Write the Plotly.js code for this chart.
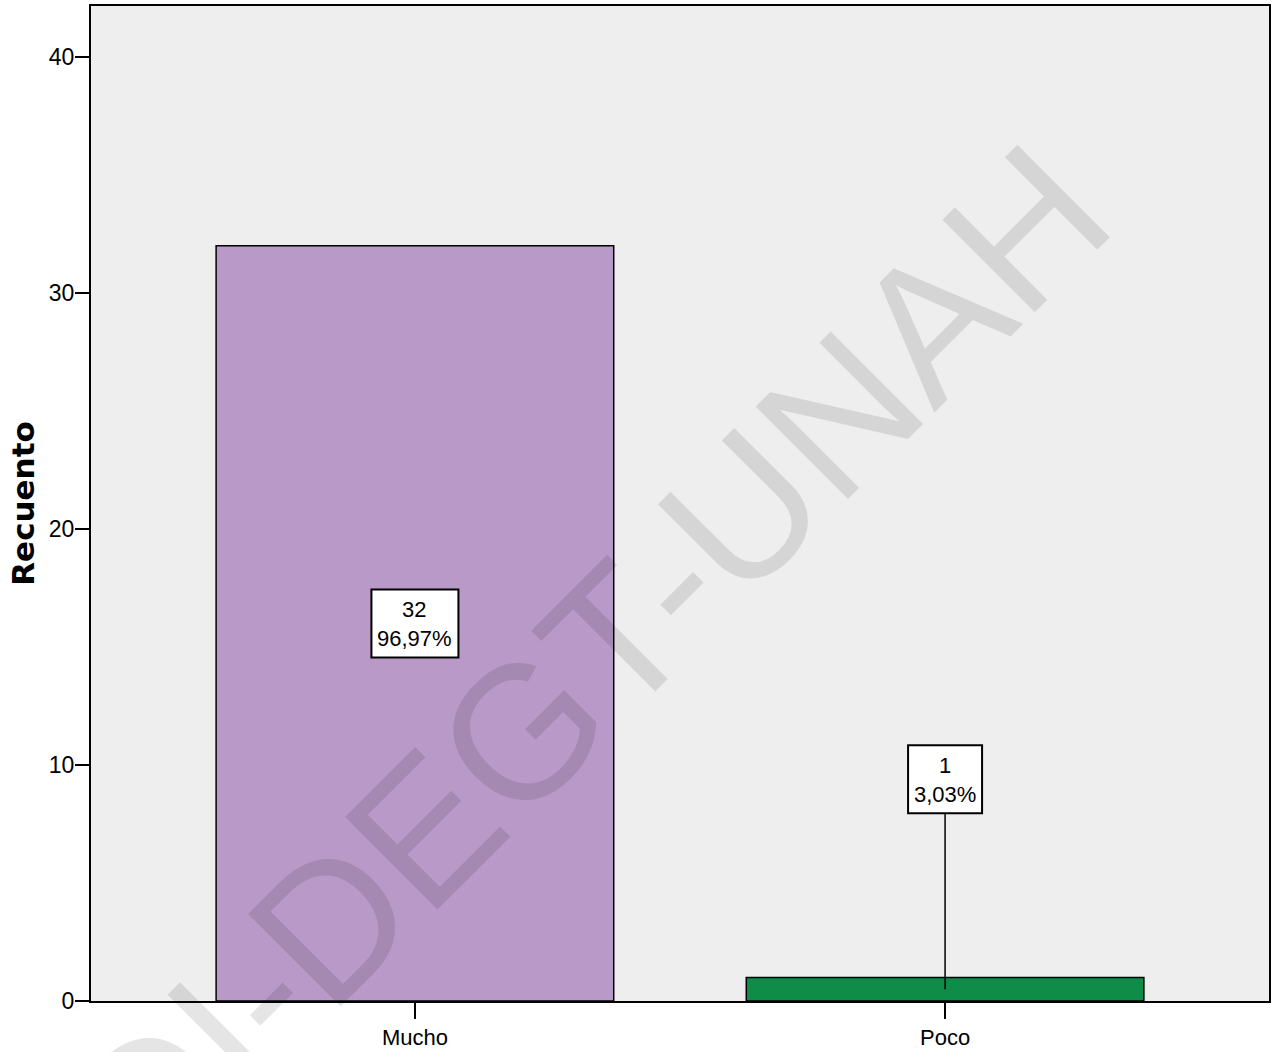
<!DOCTYPE html>
<html>
<head>
<meta charset="utf-8">
<script src="https://cdn.plot.ly/plotly-3.0.1.min.js"></script>
<style>
  html, body { margin: 0; padding: 0; background: #ffffff; }
  #chart { width: 1278px; height: 1052px; }
</style>
</head>
<body>
<div id="chart"></div>
<script>
// ---- data ----
const categories = ['Mucho', 'Poco'];
const counts = [32, 1];
const barColors = ['#b899c8', '#0e8c48'];
const yTickVals = [0, 10, 20, 30, 40];
const axisTitle = 'Recuento';
const watermarkText = 'DI-DEGT-UNAH';

// ---- styling / layout ----
const sans = '"Liberation Sans", Arial, sans-serif';
const labelOffsetPx = [0, 210];   // label box shift above bar middle
const labelBoxW = [87, 74];
const labelBoxH = 68;

const total = counts.reduce((a, b) => a + b, 0);
const pctText = counts.map(c => (c / total * 100).toFixed(2).replace('.', ',') + '%');

const trace = {
  type: 'bar',
  x: categories,
  y: counts,
  width: 0.75,
  marker: { color: barColors, line: { color: '#000000', width: 1.5 } },
  hoverinfo: 'skip'
};

const shapes = [];
const annotations = [];

// watermark
annotations.push({
  xref: 'paper', yref: 'paper', x: 0.4225, y: 0.3375,
  xanchor: 'center', yanchor: 'middle',
  text: watermarkText, showarrow: false, textangle: -45,
  font: { family: sans, size: 190, color: 'rgba(0,0,0,0.1)' }
});

categories.forEach((cat, i) => {
  const mid = counts[i] / 2;
  const off = labelOffsetPx[i];
  if (off > 0) {
    shapes.push({
      type: 'line', layer: 'above', xref: 'x', yref: 'y',
      xsizemode: 'pixel', ysizemode: 'pixel', xanchor: cat, yanchor: mid,
      x0: 0, x1: 0, y0: 0, y1: off - labelBoxH / 2,
      line: { color: '#000000', width: 1.5 }
    });
  }
  shapes.push({
    type: 'rect', layer: 'above', xref: 'x', yref: 'y',
    xsizemode: 'pixel', ysizemode: 'pixel', xanchor: cat, yanchor: mid,
    x0: -labelBoxW[i] / 2, x1: labelBoxW[i] / 2,
    y0: off - labelBoxH / 2, y1: off + labelBoxH / 2,
    fillcolor: '#ffffff', line: { color: '#000000', width: 2 }
  });
  annotations.push({
    x: cat, y: mid, xref: 'x', yref: 'y', showarrow: false,
    yshift: off - 1, text: String(counts[i]) + '<br>' + pctText[i],
    font: { family: sans, size: 22, color: '#000000' }
  });
});

const layout = {
  width: 1278, height: 1052,
  margin: { l: 91, r: 9, t: 6, b: 51, pad: 0 },
  paper_bgcolor: '#ffffff',
  plot_bgcolor: '#eeeeee',
  showlegend: false,
  bargap: 0,
  xaxis: {
    type: 'category',
    range: [-0.611, 1.611],
    showgrid: false, zeroline: false,
    showline: true, linecolor: '#000000', linewidth: 2, mirror: true,
    ticks: 'outside', ticklen: 16, tickwidth: 2, tickcolor: '#000000',
    tickfont: { family: sans, size: 22, color: '#000000' },
    fixedrange: true
  },
  yaxis: {
    range: [0, 42.16],
    tickvals: yTickVals,
    ticktext: yTickVals.map(String),
    showgrid: false, zeroline: false,
    showline: true, linecolor: '#000000', linewidth: 2, mirror: true,
    ticks: 'outside', ticklen: 14, tickwidth: 2, tickcolor: '#000000',
    ticklabelstandoff: -4,
    tickfont: { family: sans, size: 23, color: '#000000' },
    title: { text: axisTitle, standoff: 5,
             font: { family: '"DejaVu Sans", sans-serif', size: 31, color: '#000000', weight: 'bold' } },
    fixedrange: true
  },
  shapes: shapes,
  annotations: annotations
};

Plotly.newPlot('chart', [trace], layout, { staticPlot: true, displayModeBar: false });
</script>
</body>
</html>
